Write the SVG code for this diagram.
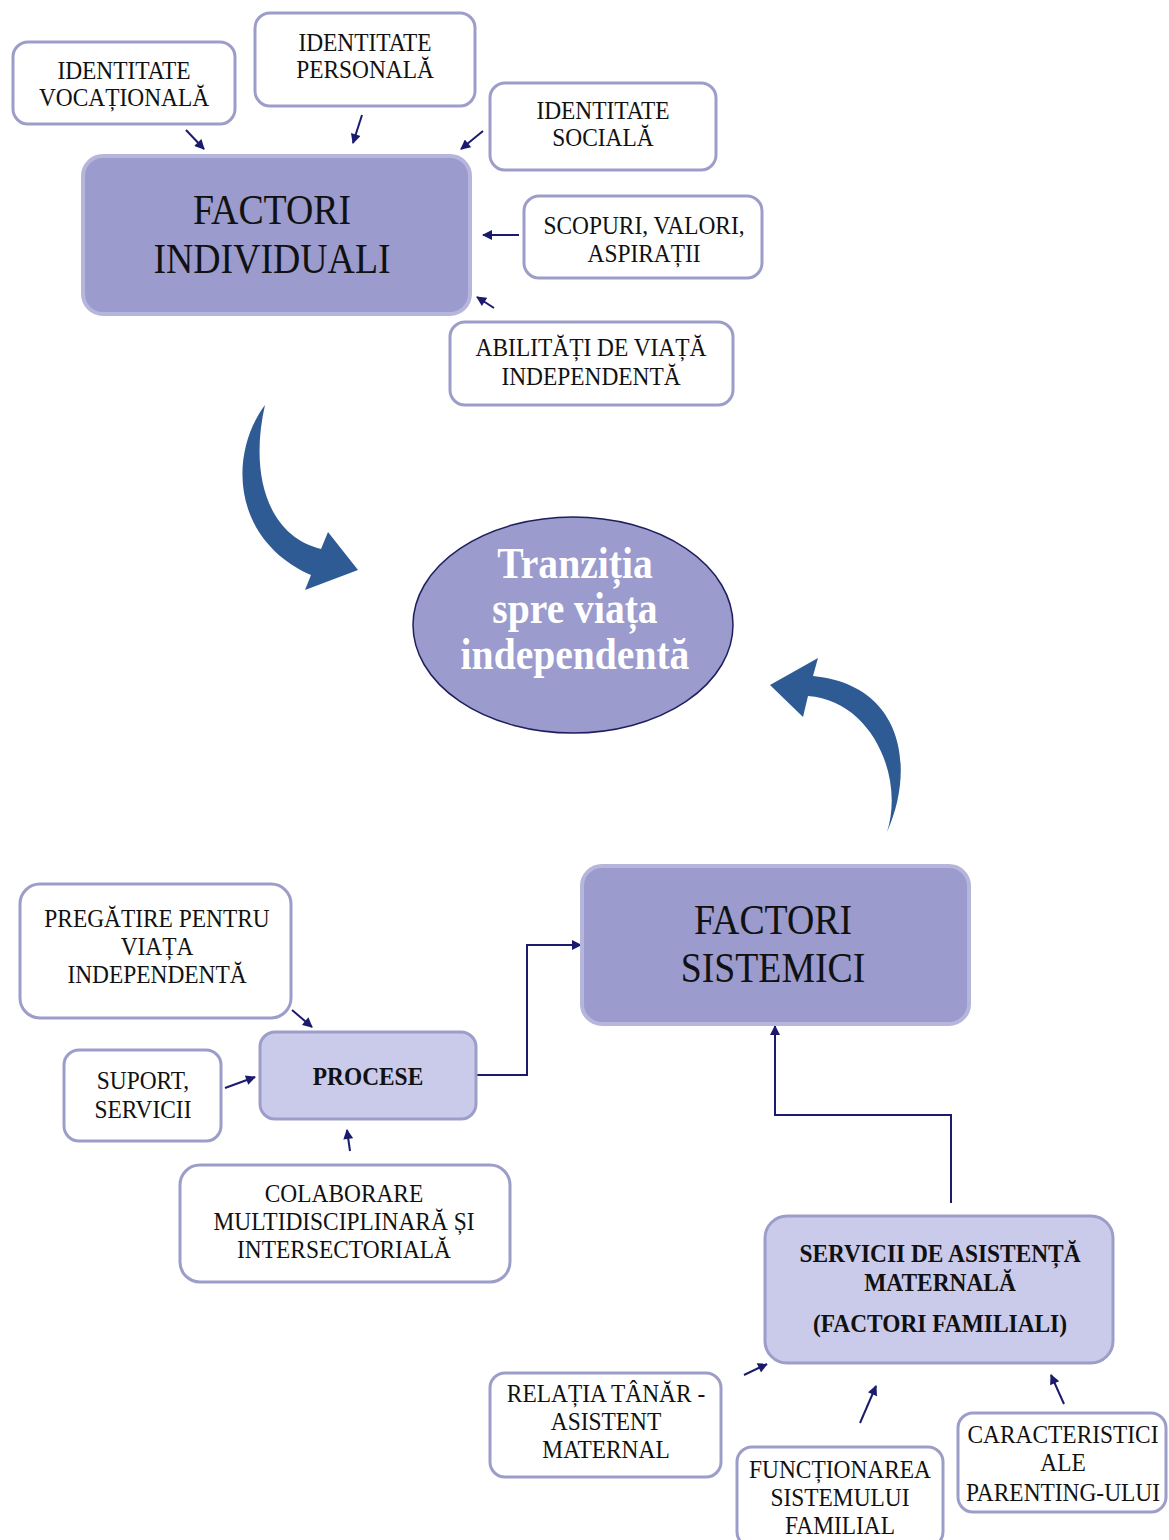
<svg xmlns="http://www.w3.org/2000/svg" width="1169" height="1540" viewBox="0 0 1169 1540">
<style>
.box{fill:#ffffff;stroke:#9d9dc9;stroke-width:3}
.main{fill:#9b9bcd;stroke:#b6b6dc;stroke-width:4}
.light{fill:#cacaea;stroke:#9d9dc9;stroke-width:3}
.t{font-family:"Liberation Serif","Times New Roman",serif;font-size:26px;fill:#111111;text-anchor:middle}
.big{font-family:"Liberation Serif","Times New Roman",serif;font-size:42px;fill:#111111;text-anchor:middle}
.b{font-family:"Liberation Serif","Times New Roman",serif;font-size:26px;font-weight:bold;fill:#111111;text-anchor:middle}
.ell{font-family:"Liberation Serif","Times New Roman",serif;font-size:44px;font-weight:bold;fill:#ffffff;text-anchor:middle}
.c{stroke:#1b1b6e;stroke-width:2;fill:none;marker-end:url(#ah)}
.curve{fill:#2f5b95}
</style>
<defs>
<marker id="ah" viewBox="0 0 10 10" refX="9" refY="5" markerWidth="12" markerHeight="10" markerUnits="userSpaceOnUse" orient="auto">
<path d="M0,0 L10,5 L0,10 z" fill="#1b1b6e"/>
</marker>
</defs>
<rect width="1169" height="1540" fill="#ffffff"/>

<g id="connectors">
<line class="c" x1="186" y1="130" x2="204" y2="149"/>
<line class="c" x1="362" y1="115" x2="353" y2="143"/>
<line class="c" x1="483" y1="131" x2="461" y2="149"/>
<line class="c" x1="519" y1="235" x2="483" y2="235"/>
<line class="c" x1="494" y1="308" x2="477" y2="297"/>
<path class="curve" d="M 265 405 C 228 455, 232 540, 311 575 L 305 590 L 358 570 L 328 532 L 321 549 C 265 535, 250 470, 265 405 Z"/>
<path class="curve" d="M 887 832 C 915 770, 905 685, 813 676 L 818 658 L 770 685 L 803 717 L 808 696 C 870 700, 905 775, 887 832 Z"/>
<line class="c" x1="292" y1="1010" x2="312" y2="1027"/>
<line class="c" x1="225" y1="1088" x2="255" y2="1077"/>
<line class="c" x1="350" y1="1151" x2="347" y2="1130"/>
<polyline class="c" points="476,1075 527,1075 527,945 581,945"/>
<polyline class="c" points="951,1203 951,1115 775,1115 775,1026"/>
<line class="c" x1="744" y1="1375" x2="767" y2="1364"/>
<line class="c" x1="860" y1="1423" x2="876" y2="1386"/>
<line class="c" x1="1064" y1="1404" x2="1051" y2="1375"/>
</g>

<g id="identitate-vocationala">
<rect class="box" x="13" y="42" width="222" height="82" rx="15"/>
<text class="t" transform="translate(124 0) scale(0.9 1)"><tspan x="0" y="79">IDENTITATE</tspan><tspan x="0" y="106">VOCAȚIONALĂ</tspan></text>
</g>
<g id="identitate-personala">
<rect class="box" x="255" y="13" width="220" height="93" rx="15"/>
<text class="t" transform="translate(365 0) scale(0.9 1)"><tspan x="0" y="51">IDENTITATE</tspan><tspan x="0" y="78">PERSONALĂ</tspan></text>
</g>
<g id="identitate-sociala">
<rect class="box" x="490" y="83" width="226" height="87" rx="15"/>
<text class="t" transform="translate(603 0) scale(0.9 1)"><tspan x="0" y="119">IDENTITATE</tspan><tspan x="0" y="146">SOCIALĂ</tspan></text>
</g>
<g id="scopuri">
<rect class="box" x="524" y="196" width="238" height="82" rx="15"/>
<text class="t" transform="translate(644 0) scale(0.9 1)"><tspan x="0" y="234">SCOPURI, VALORI,</tspan><tspan x="0" y="262">ASPIRAȚII</tspan></text>
</g>
<g id="abilitati">
<rect class="box" x="450" y="322" width="283" height="83" rx="15"/>
<text class="t" transform="translate(591 0) scale(0.9 1)"><tspan x="0" y="356">ABILITĂȚI DE VIAȚĂ</tspan><tspan x="0" y="385">INDEPENDENTĂ</tspan></text>
</g>
<g id="factori-individuali">
<rect class="main" x="83" y="156" width="387" height="158" rx="20"/>
<text class="big" transform="translate(272 0) scale(0.9 1)"><tspan x="0" y="224">FACTORI</tspan><tspan x="0" y="273">INDIVIDUALI</tspan></text>
</g>
<g id="tranzitia">
<ellipse cx="573" cy="625" rx="160" ry="108" fill="#9b9bcd" stroke="#1f1f5e" stroke-width="1.5"/>
<text class="ell" transform="translate(575 0) scale(0.9 1)"><tspan x="0" y="578">Tranziția</tspan><tspan x="0" y="623">spre viața</tspan><tspan x="0" y="669">independentă</tspan></text>
</g>
<g id="factori-sistemici">
<rect class="main" x="582" y="866" width="387" height="158" rx="20"/>
<text class="big" transform="translate(773 0) scale(0.9 1)"><tspan x="0" y="934">FACTORI</tspan><tspan x="0" y="982">SISTEMICI</tspan></text>
</g>
<g id="pregatire">
<rect class="box" x="20" y="884" width="271" height="134" rx="20"/>
<text class="t" transform="translate(157 0) scale(0.9 1)"><tspan x="0" y="927">PREGĂTIRE PENTRU</tspan><tspan x="0" y="955">VIAȚA</tspan><tspan x="0" y="983">INDEPENDENTĂ</tspan></text>
</g>
<g id="suport">
<rect class="box" x="64" y="1050" width="157" height="91" rx="15"/>
<text class="t" transform="translate(143 0) scale(0.9 1)"><tspan x="0" y="1089">SUPORT,</tspan><tspan x="0" y="1118">SERVICII</tspan></text>
</g>
<g id="procese">
<rect class="light" x="260" y="1032" width="216" height="87" rx="15"/>
<text class="b" transform="translate(368 0) scale(0.9 1)"><tspan x="0" y="1085">PROCESE</tspan></text>
</g>
<g id="colaborare">
<rect class="box" x="180" y="1165" width="330" height="117" rx="20"/>
<text class="t" transform="translate(344 0) scale(0.9 1)"><tspan x="0" y="1202">COLABORARE</tspan><tspan x="0" y="1230">MULTIDISCIPLINARĂ ȘI</tspan><tspan x="0" y="1258">INTERSECTORIALĂ</tspan></text>
</g>
<g id="servicii">
<rect class="light" x="765" y="1216" width="348" height="147" rx="22"/>
<text class="b" transform="translate(940 0) scale(0.9 1)"><tspan x="0" y="1262">SERVICII DE ASISTENȚĂ</tspan><tspan x="0" y="1291">MATERNALĂ</tspan><tspan x="0" y="1332">(FACTORI FAMILIALI)</tspan></text>
</g>
<g id="relatia">
<rect class="box" x="490" y="1373" width="231" height="104" rx="15"/>
<text class="t" transform="translate(606 0) scale(0.9 1)"><tspan x="0" y="1402">RELAȚIA TÂNĂR -</tspan><tspan x="0" y="1430">ASISTENT</tspan><tspan x="0" y="1458">MATERNAL</tspan></text>
</g>
<g id="functionarea">
<rect class="box" x="737" y="1447" width="206" height="100" rx="15"/>
<text class="t" transform="translate(840 0) scale(0.9 1)"><tspan x="0" y="1478">FUNCȚIONAREA</tspan><tspan x="0" y="1506">SISTEMULUI</tspan><tspan x="0" y="1534">FAMILIAL</tspan></text>
</g>
<g id="caracteristici">
<rect class="box" x="958" y="1413" width="208" height="99" rx="15"/>
<text class="t" transform="translate(1063 0) scale(0.9 1)"><tspan x="0" y="1443">CARACTERISTICI</tspan><tspan x="0" y="1471">ALE</tspan><tspan x="0" y="1501">PARENTING-ULUI</tspan></text>
</g>
</svg>
